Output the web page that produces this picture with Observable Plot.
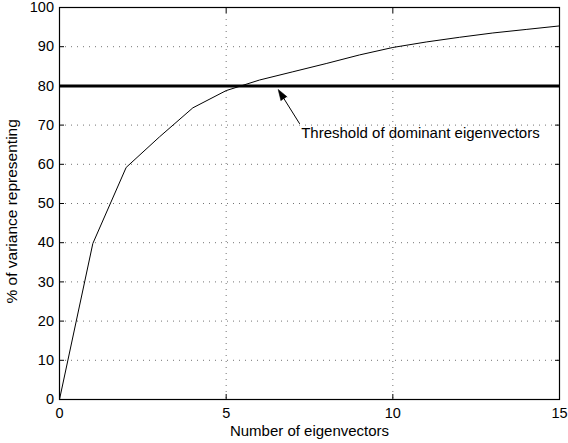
<!DOCTYPE html>
<html>
<head>
<meta charset="utf-8">
<script src="https://cdn.jsdelivr.net/npm/d3@7"></script>
<script src="https://cdn.jsdelivr.net/npm/@observablehq/plot@0.6"></script>
<style>
  html, body { margin: 0; padding: 0; background: #fff; }
  svg { font-family: Helvetica, Arial, "Liberation Sans", sans-serif; overflow: visible; }
</style>
</head>
<body>
<div id="chart"></div>
<script>
const eigenvectors = [0, 1, 2, 3, 4, 5, 6, 7, 8, 9, 10, 11, 12, 13, 14, 15];
const variance = [0, 39.8, 59.2, 67.0, 74.4, 78.8, 81.5, 83.6, 85.7, 87.9, 89.8, 91.2, 92.4, 93.5, 94.4, 95.3];
const threshold = [80];
const xTicks = [0, 5, 10, 15];
const yTicks = [0, 10, 20, 30, 40, 50, 60, 70, 80, 90, 100];
const xGrid = [5, 10];
const yGrid = [10, 20, 30, 40, 50, 60, 70, 80, 90];
const annotationText = ["Threshold of dominant eigenvectors"];
const annotationAt = [{x: 7.25, y: 68.0}];
const arrowFrom = [{x: 7.2, y: 70.4}];
const arrowTo = [{x: 6.56, y: 79.1}];
const xLabel = "Number of eigenvectors";
const yLabel = "% of variance representing";
const yLabelAt = [48];

const data = eigenvectors.map((x, i) => ({x, y: variance[i]}));
const arrows = arrowFrom.map((a, i) => ({x1: a.x, y1: a.y, x2: arrowTo[i].x, y2: arrowTo[i].y}));

const chart = Plot.plot({
  width: 568,
  height: 443,
  marginLeft: 59,
  marginRight: 9,
  marginTop: 7,
  marginBottom: 44,
  style: {fontSize: "14px", fontFamily: "Helvetica, Arial, 'Liberation Sans', sans-serif", color: "#000", background: "#fff", overflow: "visible"},
  x: {domain: [0, 15]},
  y: {domain: [0, 100]},
  marks: [
    Plot.ruleX(xGrid, {stroke: "#000", strokeOpacity: 0.55, strokeDasharray: "1,5"}),
    Plot.ruleY(yGrid, {stroke: "#000", strokeOpacity: 0.55, strokeDasharray: "1,5"}),
    // inward tick marks on all four sides
    Plot.axisX({anchor: "bottom", ticks: xTicks, tickSize: -5, tickFormat: () => "", label: null}),
    Plot.axisX({anchor: "top", ticks: xTicks, tickSize: -5, tickFormat: () => "", label: null}),
    Plot.axisY({anchor: "left", ticks: yTicks, tickSize: -5, tickFormat: () => "", label: null}),
    Plot.axisY({anchor: "right", ticks: yTicks, tickSize: -5, tickFormat: () => "", label: null}),
    // tick labels
    Plot.axisX({anchor: "bottom", ticks: xTicks, tickSize: 0, tickPadding: 8, label: null, fontSize: 14.5}),
    Plot.axisY({anchor: "left", ticks: yTicks, tickSize: 0, tickPadding: 5.5, label: null, fontSize: 14.5}),
    Plot.ruleY(threshold, {stroke: "#000", strokeWidth: 3}),
    Plot.line(data, {x: "x", y: "y", stroke: "#000", strokeWidth: 1}),
    Plot.arrow(arrows, {x1: "x1", y1: "y1", x2: "x2", y2: "y2", stroke: "#000", strokeWidth: 1, headLength: 0, insetEnd: 4}),
    Plot.vector(arrowTo, {x: "x", y: "y", length: 11, rotate: -32, anchor: "end", shape: "spike", r: 3.6, fill: "#000", stroke: "#000", strokeWidth: 0.5}),
    Plot.text(annotationText, {x: () => annotationAt[0].x, y: () => annotationAt[0].y, textAnchor: "start", fontSize: 15, fill: "#000"}),
    Plot.text([xLabel], {frameAnchor: "bottom", textAnchor: "middle", lineAnchor: "middle", dy: 32, fontSize: 15, fill: "#000"}),
    Plot.text(yLabelAt, {y: (d) => d, frameAnchor: "left", text: () => yLabel, textAnchor: "middle", lineAnchor: "middle", dx: -47, rotate: -90, fontSize: 15.5, fill: "#000"}),
    Plot.frame({stroke: "#000", strokeWidth: 1.2})
  ]
});
document.getElementById("chart").appendChild(chart);
</script>
</body>
</html>
